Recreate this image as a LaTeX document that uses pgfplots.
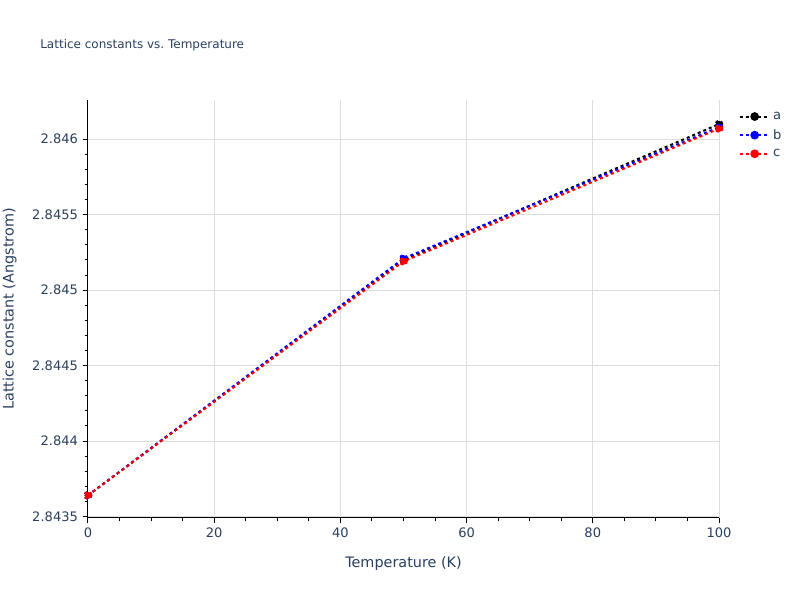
\documentclass[border=0pt]{standalone}
\usepackage{pgfplots}
\pgfplotsset{compat=1.18}
\usepackage{fontspec}
\setmainfont{DejaVu Sans}
\definecolor{txt}{HTML}{2A3F5F}
\definecolor{gridc}{HTML}{DDDDDD}
\begin{document}
\begin{tikzpicture}[x=1pt,y=1pt]
\useasboundingbox (0,0) rectangle (600,450);
\begin{axis}[
  at={(66pt,61.5pt)}, anchor=south west,
  scale only axis, width=473.25pt, height=313.5pt,
  xmin=0, xmax=100, ymin=2.84349, ymax=2.84626,
  xtick={0,20,...,100}, minor x tick num=3,
  ytick={2.8435,2.844,2.8445,2.845,2.8455,2.846}, minor y tick num=4,
  axis lines=left, axis line style={-, black, line width=0.75pt},
  tick align=outside, tick style={black, line width=0.75pt},
  major tick length=4pt, minor tick length=2.5pt,
  grid=major, major grid style={gridc, line width=0.75pt},
  ticklabel style={font=\fontsize{9.8}{11}\selectfont, text=txt},
  /pgf/number format/.cd, fixed, precision=4, assume math mode=true, /pgfplots/.cd,
  xlabel={Temperature (K)}, ylabel={Lattice constant (Angstrom)},
  label style={font=\fontsize{10.8}{12}\selectfont, text=txt},
  xlabel style={at={(axis description cs:0.5,-0.108)}, anchor=center},
  ylabel style={at={(axis description cs:-0.124,0.5)}, anchor=center, rotate=0},
  title={Lattice constants vs.\ Temperature},
  every axis title shift=0pt,
  title style={at={(axis description cs:-0.076,1.13)}, anchor=west, inner sep=0pt, font=\fontsize{9}{11}\selectfont, text=txt},
  legend style={at={(axis description cs:1.025,0.985)}, anchor=north west, draw=none, fill=none,
    font=\fontsize{9.8}{11}\selectfont, text=txt, row sep=2pt},
  legend cell align=left,
  legend image code/.code={\draw[#1] (0pt,0pt) -- (22pt,0pt); \draw[#1, solid] plot coordinates {(11pt,0pt)};},
  every axis plot/.append style={line width=1.5pt, dash pattern=on 2.25pt off 2.25pt, mark=*, mark size=2.5pt, mark options={solid}},
]
\addplot[black, mark options={fill=black}] coordinates {(0,2.84364) (50,2.84520) (100,2.84610)};
\addplot[blue, mark options={fill=blue}] coordinates {(0,2.84364) (50,2.84521) (100,2.84608)};
\addplot[red, mark options={fill=red}] coordinates {(0,2.84364) (50,2.84519) (100,2.84607)};
\legend{a,b,c}
\end{axis}
\end{tikzpicture}
\end{document}
